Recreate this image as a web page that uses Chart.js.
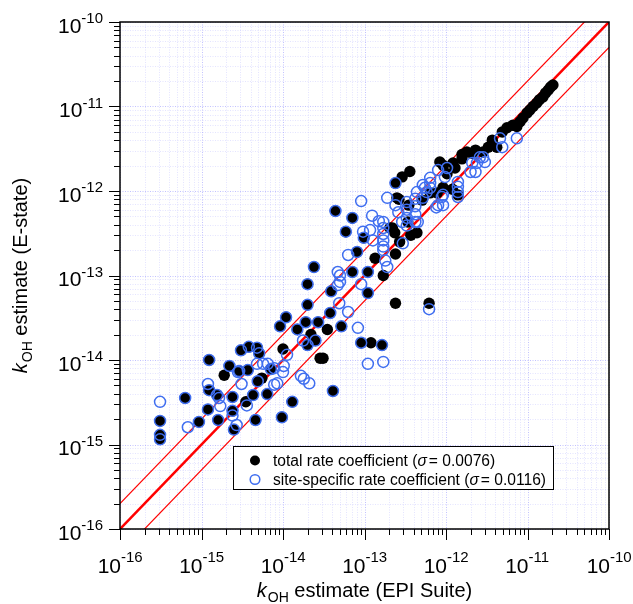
<!DOCTYPE html>
<html>
<head>
<meta charset="utf-8">
<script src="https://cdn.jsdelivr.net/npm/chart.js@4.4.1/dist/chart.umd.min.js"></script>
<style>
  html, body { margin: 0; padding: 0; background: #fff; }
  #wrap { position: relative; width: 633px; height: 604px; }
</style>
</head>
<body>
<div id="wrap"><canvas id="koh-chart"></canvas></div>
<script>
/* ===== kOH estimate comparison: E-state vs EPI Suite ===== */

// axis decades (exponents) and minor steps within a decade
const decadeExps = [-16, -15, -14, -13, -12, -11, -10];
const minorSteps = [2, 3, 4, 5, 6, 7, 8, 9];

// [EPI Suite estimate, E-state estimate]
// molecules where total and site-specific estimates coincide
const sharedPoints = [
  [3.1e-16, 1.9e-15], [3.1e-16, 1.3e-15], [3.1e-16, 1.15e-15], [6.3e-16, 3.55e-15], [9.3e-16, 1.85e-15],
  [1.24e-15, 1.0e-14], [1.24e-15, 4.4e-15], [1.2e-15, 2.6e-15], [1.55e-15, 3.85e-15], [1.6e-15, 1.95e-15],
  [2.2e-15, 8.5e-15], [2.4e-15, 3.65e-15], [2.4e-15, 2.5e-15], [2.5e-15, 1.5e-15], [2.9e-15, 7.4e-15],
  [3.05e-15, 1.3e-14], [3.7e-15, 7.6e-15], [3.8e-15, 1.43e-14], [4.8e-15, 1.4e-14], [5.1e-15, 1.2e-14],
  [4.3e-15, 3.85e-15], [4.6e-15, 1.95e-15], [4.9e-15, 5.6e-15], [6.4e-15, 3.95e-15], [7.1e-15, 7.8e-15],
  [9.7e-15, 2.1e-15], [9.2e-15, 2.5e-14], [1.09e-14, 3.2e-14], [1.5e-14, 2.3e-14], [1.3e-14, 3.2e-15],
  [1.9e-14, 2.8e-14], [2.0e-14, 4.5e-14], [2.0e-14, 1.5e-14], [2.0e-14, 7.9e-14], [3.9e-14, 6.5e-14],
  [3.8e-14, 3.6e-14], [2.7e-14, 2.8e-14], [5.2e-14, 2.5e-14], [2.5e-14, 1.7e-14], [4.1e-14, 4.3e-15],
  [9.1e-14, 1.6e-14], [1.64e-13, 1.5e-14], [1.1e-13, 6.2e-14], [7.1e-14, 1.1e-13], [1.1e-13, 1.1e-13],
  [8.1e-14, 1.9e-13], [9.8e-14, 2.8e-13], [5.9e-14, 3.3e-13], [4.4e-14, 5.8e-13], [7.1e-14, 4.8e-13],
  [2.4e-14, 1.26e-13], [2.4e-13, 1.24e-12]
];

// total rate coefficient only
const totalOnly = [
  [1.9e-15, 6.6e-15], [3.5e-15, 3.2e-15], [5.5e-15, 6.1e-15], [1.0e-14, 1.35e-14], [2.2e-14, 2.0e-14],
  [3.5e-14, 2.3e-14], [2.85e-14, 1.05e-14], [3.1e-14, 1.05e-14], [1.2e-13, 1.6e-14], [2.4e-13, 4.7e-14],
  [6.2e-13, 4.7e-14], [1.7e-13, 1.0e-13], [1.35e-13, 1.6e-13], [2.4e-13, 1.8e-13], [2.2e-13, 3.65e-13],
  [2.7e-13, 2.5e-13], [2.65e-13, 8.0e-13], [2.9e-13, 1.47e-12], [3.6e-13, 1.7e-12], [2.5e-13, 8.3e-13],
  [2.05e-13, 3.65e-13], [2.35e-13, 3.2e-13], [4.4e-13, 3.2e-13], [3.7e-13, 3.0e-13], [3.5e-13, 6.8e-13],
  [3.4e-13, 4.3e-13], [5.1e-13, 7.8e-13], [6.4e-13, 9.5e-13], [7.8e-13, 9.5e-13], [9.2e-13, 1.1e-12],
  [8.4e-13, 2.2e-12], [9.3e-13, 2.0e-12], [1.03e-12, 1.6e-12], [1.22e-12, 2.15e-12], [1.29e-12, 1.87e-12],
  [1.4e-12, 9.0e-13], [1.2e-12, 1.05e-12], [1.57e-12, 2.7e-12], [1.57e-12, 2.4e-12], [1.8e-12, 2.9e-12],
  [2.1e-12, 2.8e-12], [2.3e-12, 3.05e-12], [2.85e-12, 2.9e-12], [3.3e-12, 3.3e-12], [3.7e-12, 4.0e-12],
  [4.2e-12, 3.3e-12], [4.9e-12, 5.0e-12], [5.6e-12, 5.6e-12], [6.6e-12, 6.0e-12], [7.4e-12, 5.8e-12],
  [8.1e-12, 6.6e-12], [8.8e-12, 7.3e-12], [9.9e-12, 8.4e-12], [1.07e-11, 9.1e-12], [1.17e-11, 1.0e-11],
  [1.3e-11, 1.1e-11], [1.4e-11, 1.2e-11], [1.55e-11, 1.3e-11], [1.67e-11, 1.45e-11], [1.8e-11, 1.57e-11],
  [1.92e-11, 1.7e-11], [2.05e-11, 1.8e-11]
];

// site-specific rate coefficient only
const siteOnly = [
  [3.1e-16, 3.2e-15], [6.8e-16, 1.6e-15], [1.2e-15, 5.2e-15], [1.64e-15, 3.55e-15], [1.7e-15, 2.85e-15],
  [2.4e-15, 2.2e-15], [2.7e-15, 1.7e-15], [3.1e-15, 5.2e-15], [3.6e-15, 2.9e-15], [2.8e-15, 7.2e-15],
  [4.8e-15, 9.0e-15], [5.7e-15, 9.0e-15], [6.5e-15, 9.0e-15], [7.8e-15, 5.1e-15], [8.5e-15, 5.3e-15],
  [7.8e-15, 8.0e-15], [1.0e-14, 7.2e-15], [1.02e-14, 8.5e-15], [1.12e-14, 1.15e-14], [1.76e-14, 1.7e-14],
  [1.8e-14, 6.0e-15], [2.1e-14, 5.3e-15], [1.66e-14, 6.5e-15], [4.7e-14, 1.1e-13], [4.7e-14, 7.7e-14],
  [4.9e-14, 4.7e-14], [6.3e-14, 3.7e-14], [8.3e-14, 2.4e-14], [1.1e-13, 9.0e-15], [1.7e-13, 9.5e-15],
  [6.2e-13, 4.0e-14], [9.1e-14, 7.9e-14], [5.0e-14, 1.0e-13], [5.0e-14, 8.4e-14], [6.3e-14, 1.75e-13],
  [1.8e-13, 1.5e-13], [1.9e-13, 1.26e-13], [9.1e-14, 7.6e-13], [1.24e-13, 5.1e-13], [1.5e-13, 4.4e-13],
  [9.6e-14, 3.3e-13], [1.17e-13, 3.45e-13], [1.27e-13, 2.6e-13], [1.7e-13, 4.3e-13], [1.7e-13, 3.65e-13],
  [1.7e-13, 3.1e-13], [1.7e-13, 2.6e-13], [1.7e-13, 2.2e-13], [1.7e-13, 2.0e-13], [1.9e-13, 8.3e-13],
  [3.3e-13, 7.4e-13], [3.3e-13, 6.0e-13], [3.3e-13, 4.8e-13], [3.3e-13, 3.9e-13], [4.2e-13, 8.1e-13],
  [4.2e-13, 6.6e-13], [4.2e-13, 5.3e-13], [4.2e-13, 4.3e-13], [2.4e-13, 6.8e-13], [2.6e-13, 5.6e-13],
  [2.9e-13, 4.3e-13], [2.95e-13, 2.4e-13], [4.5e-13, 4.3e-13], [4.4e-13, 9.7e-13], [5.5e-13, 1.09e-12],
  [6.4e-13, 1.43e-12], [6.4e-13, 1.24e-12], [6.4e-13, 1.09e-12], [8.0e-13, 1.77e-12], [1.03e-12, 1.87e-12],
  [9.7e-13, 1.46e-12], [1.4e-12, 1.28e-12], [1.4e-12, 1.12e-12], [1.4e-12, 9.7e-13], [1.4e-12, 8.5e-13],
  [9.2e-13, 9.0e-13], [8.0e-13, 6.8e-13], [9.2e-13, 6.8e-13], [7.6e-13, 6.4e-13], [5.2e-13, 1.18e-12],
  [5.8e-13, 9.7e-13], [5.2e-13, 8.3e-13], [8.9e-13, 8.5e-13], [2.0e-12, 1.68e-12], [2.3e-12, 1.68e-12],
  [2.4e-12, 2.15e-12], [2.85e-12, 2.5e-12], [2.1e-12, 2.15e-12], [2.6e-12, 2.5e-12], [3.0e-12, 2.2e-12],
  [4.6e-12, 4.2e-12], [4.9e-12, 3.3e-12], [7.4e-12, 4.2e-12]
];

// 1:1 line and factor-of-two lines
const refFactors = [1, 2, 0.5];

const legendLabels = ['total rate coefficient', 'site-specific rate coefficient'];
const legendSigma  = ['0.0076', '0.0116'];

const BLUE = '#3f6ef0';
const FONT = '"Liberation Sans", Arial, Helvetica, sans-serif';

const axisMin = Math.pow(10, decadeExps[0]);
const axisMax = Math.pow(10, decadeExps[decadeExps.length - 1]);

// every tick: 1..9 x 10^n, plus the last decade
const tickValues = [];
decadeExps.forEach((e, i) => {
  const d = Math.pow(10, e);
  tickValues.push({ v: d, major: true, exp: e });
  if (i < decadeExps.length - 1) minorSteps.forEach(m => tickValues.push({ v: m * d, major: false }));
});

const toXY = p => ({ x: p[0], y: p[1] });

function drawPow(ctx, x0, baseY, supY, exp) {
  ctx.font = '21px ' + FONT;
  ctx.fillText('10', x0, baseY);
  const wb = ctx.measureText('10').width;
  ctx.font = '15px ' + FONT;
  ctx.fillText(String(exp), x0 + wb, supY);
}
function powWidths(ctx, exp) {
  ctx.font = '21px ' + FONT;
  const wb = ctx.measureText('10').width;
  ctx.font = '15px ' + FONT;
  return [wb, ctx.measureText(String(exp)).width];
}

// title "k_OH estimate (...)" drawn at (0,0) baseline, returns width
function kohTitle(ctx, rest, measureOnly) {
  let x = 0;
  const parts = [
    { t: 'k', f: 'italic 20px ' + FONT, dy: 0 },
    { t: 'OH', f: '14px ' + FONT, dy: 5 },
    { t: ' estimate ' + rest, f: '20px ' + FONT, dy: 0 }
  ];
  parts.forEach(p => {
    ctx.font = p.f;
    if (!measureOnly) ctx.fillText(p.t, x, p.dy);
    x += ctx.measureText(p.t).width + (p.t === 'k' ? 1 : 0);
  });
  return x;
}

const gridPlugin = {
  id: 'logGrid',
  beforeDatasetsDraw(chart) {
    const { ctx, chartArea: a, scales: { x, y } } = chart;
    ctx.save();
    ctx.lineWidth = 1;
    tickValues.forEach(t => {
      ctx.strokeStyle = t.major ? 'rgba(120,120,255,0.45)' : 'rgba(150,150,255,0.26)';
      ctx.setLineDash([1, 1.5]);
      const px = Math.round(x.getPixelForValue(t.v)) + 0.5;
      ctx.beginPath(); ctx.moveTo(px, a.top); ctx.lineTo(px, a.bottom); ctx.stroke();
      const py = Math.round(y.getPixelForValue(t.v)) + 0.5;
      ctx.beginPath(); ctx.moveTo(a.left, py); ctx.lineTo(a.right, py); ctx.stroke();
    });
    ctx.restore();
  },
  afterDraw(chart) {
    const { ctx, chartArea: a, scales: { x, y } } = chart;
    ctx.save();
    ctx.setLineDash([]);
    // frame
    ctx.strokeStyle = '#000';
    ctx.lineWidth = 1.5;
    ctx.strokeRect(a.left, a.top, a.right - a.left, a.bottom - a.top);

    // tick marks, outside left and bottom
    ctx.lineWidth = 1;
    tickValues.forEach(t => {
      const len = t.major ? 11 : 6;
      const px = Math.round(x.getPixelForValue(t.v)) + 0.5;
      ctx.beginPath(); ctx.moveTo(px, a.bottom); ctx.lineTo(px, a.bottom + len); ctx.stroke();
      const py = Math.round(y.getPixelForValue(t.v)) + 0.5;
      ctx.beginPath(); ctx.moveTo(a.left, py); ctx.lineTo(a.left - len, py); ctx.stroke();
    });

    // tick labels 10^n
    ctx.fillStyle = '#000';
    ctx.textBaseline = 'alphabetic';
    ctx.textAlign = 'left';
    decadeExps.forEach(e => {
      const v = Math.pow(10, e);
      const [wb, ws] = powWidths(ctx, e);
      const py = y.getPixelForValue(v);
      drawPow(ctx, a.left - 17 - ws - wb, py + 10.5, py + 1, e);
      const px = x.getPixelForValue(v);
      drawPow(ctx, px + 1 - wb, a.bottom + 44, a.bottom + 33, e);
    });

    // axis titles
    const wx = kohTitle(ctx, '(EPI Suite)', true);
    ctx.save();
    ctx.translate((a.left + a.right) / 2 - wx / 2, 597);
    kohTitle(ctx, '(EPI Suite)', false);
    ctx.restore();
    const wy = kohTitle(ctx, '(E-state)', true);
    ctx.save();
    ctx.translate(27, (a.top + a.bottom) / 2 + wy / 2);
    ctx.rotate(-Math.PI / 2);
    kohTitle(ctx, '(E-state)', false);
    ctx.restore();

    // legend box
    const bx = 233, by = 446, bw = 320, bh = 43;
    ctx.fillStyle = '#fff';
    ctx.fillRect(bx, by, bw, bh);
    ctx.strokeStyle = '#000';
    ctx.lineWidth = 1;
    ctx.strokeRect(bx + 0.5, by + 0.5, bw, bh);
    const rows = [by + 14.5, by + 33.5];
    // markers
    ctx.beginPath(); ctx.arc(bx + 22, rows[0], 5, 0, Math.PI * 2);
    ctx.fillStyle = '#000'; ctx.fill();
    ctx.beginPath(); ctx.arc(bx + 22, rows[1], 4.8, 0, Math.PI * 2);
    ctx.strokeStyle = BLUE; ctx.lineWidth = 1.5; ctx.stroke();
    // labels
    ctx.fillStyle = '#000';
    rows.forEach((ry, i) => {
      let tx = bx + 40;
      const base = ry + 5.5;
      const parts = [
        { t: legendLabels[i] + ' (', f: '15.6px ' + FONT },
        { t: '\u03c3', f: 'italic 15.6px ' + FONT },
        { t: '= ' + legendSigma[i] + ')', f: '15.6px ' + FONT }
      ];
      parts.forEach((p, k) => {
        ctx.font = p.f;
        ctx.fillText(p.t, tx, base);
        tx += ctx.measureText(p.t).width + (k === 1 ? 2 : 0);
      });
    });
    ctx.restore();
  }
};

const datasets = [
  {
    label: legendLabels[1],
    data: sharedPoints.concat(siteOnly).map(toXY),
    pointRadius: 5.5,
    pointBorderWidth: 1.5,
    borderColor: BLUE,
    backgroundColor: 'rgba(0,0,0,0)',
    order: 0
  },
  {
    label: legendLabels[0],
    data: totalOnly.concat(sharedPoints).map(toXY),
    pointRadius: 5.7,
    pointBorderWidth: 0,
    borderColor: '#000',
    backgroundColor: '#000',
    order: 1
  }
];
refFactors.forEach(f => {
  datasets.push({
    type: 'line',
    data: [{ x: axisMin, y: axisMin * f }, { x: axisMax, y: axisMax * f }],
    borderColor: '#ff0000',
    borderWidth: f === 1 ? 2.6 : 1.2,
    pointRadius: 0,
    showLine: true,
    fill: false,
    clip: 0,
    order: 2
  });
});

const logAxis = (size, key) => ({
  type: 'logarithmic',
  min: axisMin,
  max: axisMax,
  afterBuildTicks: s => { s.ticks = tickValues.map(t => ({ value: t.v })); },
  ticks: { display: false },
  grid: { display: false },
  border: { display: false },
  afterFit: s => { s[key] = size; }
});

const ctx = document.getElementById('koh-chart').getContext('2d');
new Chart(ctx, {
  type: 'scatter',
  data: { datasets },
  options: {
    responsive: true,
    maintainAspectRatio: false,
    animation: false,
    events: [],
    layout: { padding: { top: 22, right: 24, left: 0, bottom: 0 } },
    plugins: { legend: { display: false }, tooltip: { enabled: false } },
    scales: {
      x: logAxis(75, 'height'),
      y: logAxis(120, 'width')
    }
  },
  plugins: [gridPlugin]
});
</script>
</body>
</html>
